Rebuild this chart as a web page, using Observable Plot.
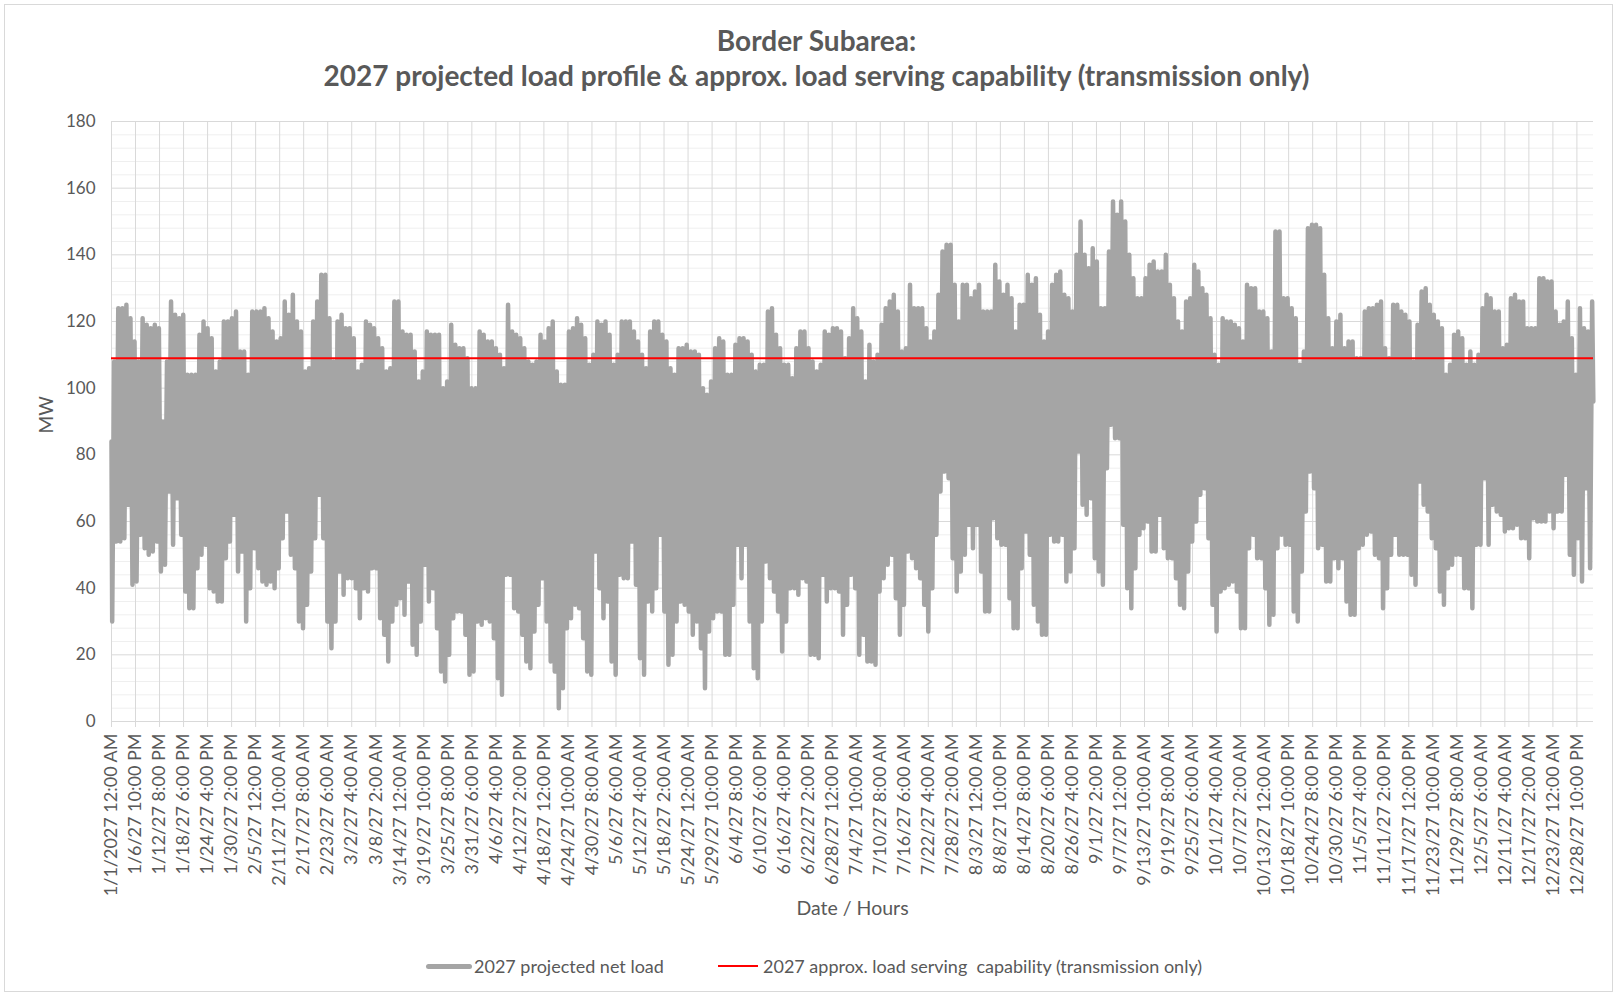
<!DOCTYPE html>
<html>
<head>
<meta charset="utf-8">
<script src="https://cdn.jsdelivr.net/npm/d3@7"></script>
<script src="https://cdn.jsdelivr.net/npm/@observablehq/plot@0.6"></script>
<style>
  html, body { margin: 0; padding: 0; background: #ffffff; }
  #chart { position: relative; width: 1617px; height: 995px; overflow: hidden; font-family: Lato, "Open Sans", sans-serif; color: #595959; background: #fff; }
  #frame { position: absolute; left: 4px; top: 4px; width: 1609px; height: 988px; border: 1px solid #D9D9D9; box-sizing: border-box; pointer-events: none; }
  #plot { position: absolute; left: 0; top: 0; }
  #title { position: absolute; left: 8px; top: 23px; width: 1617px; text-align: center; font-weight: 700; font-size: 28px; line-height: 35px; color: #595959; }
  .leg { position: absolute; top: 955px; height: 22px; line-height: 22px; font-size: 18px; color: #595959; white-space: pre; }
  .sw { position: absolute; }
</style>
</head>
<body>
<div id="chart">
  <div id="title">Border Subarea:<br>2027 projected load profile &amp; approx. load serving capability (transmission only)</div>
  <div id="plot"></div>
  <div class="sw" style="left:426px; top:964px; width:46px; height:5px; background:#A5A5A5; border-radius:3px;"></div>
  <div class="leg" style="left:474px;">2027 projected net load</div>
  <div class="sw" style="left:718px; top:965px; width:40px; height:2px; background:#FF0000;"></div>
  <div class="leg" style="left:763px;">2027 approx. load serving  capability (transmission only)</div>
  <div id="frame"></div>
</div>
<script>
// ---- Data ----
const xTickLabels = [
  "1/1/2027 12:00 AM", "1/6/27 10:00 PM", "1/12/27 8:00 PM", "1/18/27 6:00 PM", "1/24/27 4:00 PM",
  "1/30/27 2:00 PM", "2/5/27 12:00 PM", "2/11/27 10:00 AM", "2/17/27 8:00 AM", "2/23/27 6:00 AM",
  "3/2/27 4:00 AM", "3/8/27 2:00 AM", "3/14/27 12:00 AM", "3/19/27 10:00 PM", "3/25/27 8:00 PM",
  "3/31/27 6:00 PM", "4/6/27 4:00 PM", "4/12/27 2:00 PM", "4/18/27 12:00 PM", "4/24/27 10:00 AM",
  "4/30/27 8:00 AM", "5/6/27 6:00 AM", "5/12/27 4:00 AM", "5/18/27 2:00 AM", "5/24/27 12:00 AM",
  "5/29/27 10:00 PM", "6/4/27 8:00 PM", "6/10/27 6:00 PM", "6/16/27 4:00 PM", "6/22/27 2:00 PM",
  "6/28/27 12:00 PM", "7/4/27 10:00 AM", "7/10/27 8:00 AM", "7/16/27 6:00 AM", "7/22/27 4:00 AM",
  "7/28/27 2:00 AM", "8/3/27 12:00 AM", "8/8/27 10:00 PM", "8/14/27 8:00 PM", "8/20/27 6:00 PM",
  "8/26/27 4:00 PM", "9/1/27 2:00 PM", "9/7/27 12:00 PM", "9/13/27 10:00 AM", "9/19/27 8:00 AM",
  "9/25/27 6:00 AM", "10/1/27 4:00 AM", "10/7/27 2:00 AM", "10/13/27 12:00 AM", "10/18/27 10:00 PM",
  "10/24/27 8:00 PM", "10/30/27 6:00 PM", "11/5/27 4:00 PM", "11/11/27 2:00 PM", "11/17/27 12:00 PM",
  "11/23/27 10:00 AM", "11/29/27 8:00 AM", "12/5/27 6:00 AM", "12/11/27 4:00 AM", "12/17/27 2:00 AM",
  "12/23/27 12:00 AM", "12/28/27 10:00 PM"
];
const labelIntervalHours = 142;
const hoursInYear = 8760;
const yMajorTicks = [0, 20, 40, 60, 80, 100, 120, 140, 160, 180];
const yMinorTicks = [4, 8, 12, 16, 24, 28, 32, 36, 44, 48, 52, 56, 64, 68, 72, 76, 84, 88, 92, 96,
  104, 108, 112, 116, 124, 128, 132, 136, 144, 148, 152, 156, 164, 168, 172, 176];

// daily peak of the projected net load (MW), Jan 1 .. Dec 31
const dailyMax = [
  108,124,124,125,121,114,108,121,119,118,119,118, 90,108,126,122,121,122,104,104,
  104,116,120,118,115,105,108,120,120,121,123,111,111,104,123,123,123,124,121,117,
  114,115,126,122,128,120,117,105,106,120,126,134,134,121,108,120,122,118,118,115,
  105,107,120,119,118,115,112,105,106,126,126,117,116,116,111,102,105,117,116,116,
  116,100,102,119,113,112,112,109,100,100,117,116,114,114,112,110,106,125,117,116,
  115,112,108,107,108,116,114,118,120,105,101,101,117,118,121,119,115,107,110,120,
  119,120,116,107,110,120,120,120,117,114,110,106,117,120,120,116,114,106,104,112,
  112,113,111,111,110,100, 98,102,112,115,114,104,104,113,115,115,114,110,105,107,
  107,123,124,116,112,107,107,103,112,117,117,112,108,105,107,117,116,118,118,117,
  109,115,124,121,117,102,113,108,110,119,124,126,128,123,111,112,131,124,124,124,
  118,114,117,128,141,143,143,131,120,131,131,127,129,131,123,123,123,137,132,128,
  131,127,117,125,125,134,131,133,122,114,117,131,134,135,128,127,123,140,150,140,
  136,142,138,124,124,141,156,152,156,150,140,133,127,127,133,137,138,135,135,140,
  131,127,120,117,126,127,137,135,130,128,121,110,107,121,120,120,119,118,114,131,
  130,130,123,123,121,111,147,147,127,127,124,121,107,111,148,149,149,148,134,121,
  112,120,122,112,114,114,109,109,123,124,124,125,126,112,109,125,125,123,122,120,
  108,119,129,130,125,122,120,118,104,107,116,117,115,107,111,107,110,124,128,127,
  123,123,112,113,127,128,126,126,118,118,118,133,133,132,132,123,119,120,126,115,
  104,124,118,117,126
];
// daily minimum of the projected net load (MW), Jan 1 .. Dec 31
const dailyMin = [
   30, 54, 54, 55, 65, 41, 42, 56, 52, 50, 51, 54, 45, 47, 69, 53, 67, 56, 39, 34,
   34, 46, 50, 53, 40, 39, 36, 36, 49, 54, 62, 45, 51, 30, 40, 52, 46, 42, 41, 42,
   40, 46, 55, 63, 50, 46, 30, 28, 35, 45, 55, 68, 55, 30, 22, 30, 45, 38, 43, 43,
   40, 31, 40, 39, 46, 46, 31, 26, 18, 30, 35, 37, 32, 42, 23, 20, 30, 47, 36, 40,
   28, 15, 12, 20, 31, 33, 33, 26, 14, 15, 30, 29, 31, 30, 25, 13,  8, 44, 44, 34,
   33, 26, 18, 16, 27, 35, 43, 30, 18, 15,  4, 10, 28, 31, 35, 34, 25, 15, 14, 51,
   40, 31, 36, 18, 14, 44, 43, 43, 54, 41, 19, 14, 36, 33, 40, 56, 33, 17, 20, 30,
   36, 35, 33, 26, 30, 22, 10, 27, 31, 33, 33, 20, 20, 35, 53, 43, 53, 30, 16, 13,
   30, 48, 43, 39, 33, 21, 30, 40, 40, 38, 43, 42, 20, 20, 19, 44, 36, 40, 40, 39,
   26, 35, 44, 40, 20, 26, 18, 18, 17, 39, 43, 47, 50, 37, 26, 35, 51, 49, 46, 43,
   35, 27, 40, 56, 69, 75, 73, 49, 39, 45, 50, 59, 52, 59, 45, 33, 33, 61, 55, 53,
   53, 37, 28, 28, 46, 57, 50, 35, 30, 26, 26, 56, 54, 54, 56, 42, 45, 52, 81, 65,
   62, 67, 49, 45, 41, 76, 89, 85, 85, 59, 40, 34, 46, 56, 58, 60, 51, 51, 62, 52,
   49, 49, 43, 35, 34, 45, 54, 60, 68, 70, 55, 35, 27, 39, 40, 41, 42, 39, 28, 28,
   52, 56, 49, 49, 40, 29, 32, 52, 56, 53, 53, 33, 30, 45, 63, 75, 70, 52, 53, 42,
   42, 49, 46, 49, 36, 32, 32, 52, 53, 56, 57, 50, 49, 34, 40, 50, 56, 50, 50, 50,
   44, 41, 72, 65, 63, 55, 52, 39, 35, 46, 47, 50, 50, 40, 40, 34, 53, 53, 73, 53,
   65, 63, 62, 57, 58, 58, 59, 55, 55, 49, 61, 60, 60, 60, 63, 58, 63, 63, 74, 50,
   44, 55, 42, 70, 46
];
const startLoad = 84;     // first hour of the year
const endLoad = 96;       // last hour of the year
const minHourOfDay = 4;   // overnight trough
const maxHourOfDay = 16;  // afternoon peak
const capability = 109;   // approx. load serving capability (MW)

// ---- Build the hourly-ordered series ----
const load = [{hour: 0, mw: startLoad}];
dailyMin.forEach((v, d) => {
  load.push({hour: d * 24 + minHourOfDay, mw: v});
  load.push({hour: d * 24 + maxHourOfDay, mw: dailyMax[d]});
});
load.push({hour: hoursInYear - 1, mw: endLoad});
const xTickHours = xTickLabels.map((_, i) => i * labelIntervalHours);

const chart = Plot.plot({
  width: 1617,
  height: 935,
  marginLeft: 111,
  marginRight: 24,
  marginTop: 121,
  marginBottom: 214,
  style: {fontFamily: "Lato, 'Open Sans', sans-serif", fontSize: "17px", color: "#595959", background: "transparent"},
  x: {domain: [0, hoursInYear], label: null},
  y: {domain: [0, 180], label: null},
  marks: [
    Plot.ruleY(yMinorTicks, {stroke: "#EFEFEF", strokeWidth: 1}),
    Plot.ruleY(yMajorTicks, {stroke: "#D9D9D9", strokeWidth: 1}),
    Plot.ruleX(xTickHours, {stroke: "#D9D9D9", strokeWidth: 1}),
    Plot.axisX(xTickHours, {
      tickRotate: -90, tickSize: 6, tickPadding: 6, stroke: "#D9D9D9",
      tickFormat: d => xTickLabels[Math.round(d / labelIntervalHours)],
      fontSize: 18, label: null
    }),
    Plot.axisY(yMajorTicks, {tickSize: 0, tickPadding: 16, label: null, fontSize: 17}),
    Plot.line(load, {x: "hour", y: "mw", stroke: "#A5A5A5", strokeWidth: 4.5, strokeLinejoin: "round", strokeLinecap: "round"}),
    Plot.ruleY([capability], {stroke: "#FF0000", strokeWidth: 2}),
    Plot.text(["MW"], {frameAnchor: "left", dx: -65, dy: 12, rotate: -90, fontSize: 19}),
    Plot.text(["Date / Hours"], {frameAnchor: "bottom", dy: 193, fontSize: 19.5})
  ]
});
document.getElementById("plot").appendChild(chart);
</script>
</body>
</html>
